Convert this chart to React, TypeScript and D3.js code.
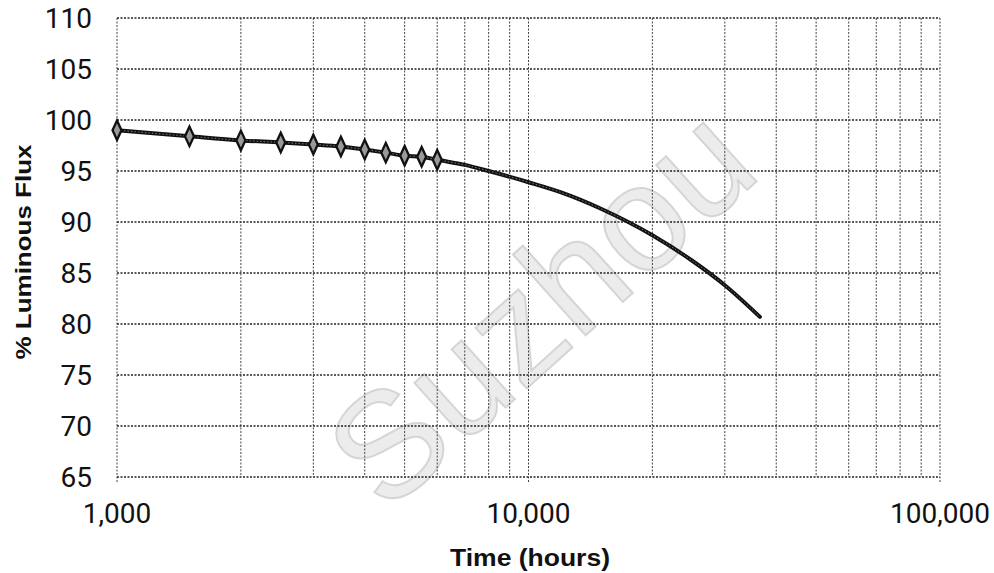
import React from "react";
import * as d3 from "d3";

const markerHours = [1000, 1500, 2000, 2500, 3000, 3500, 4000, 4500, 5000, 5500, 6000];
const markerFlux = [99.0, 98.4, 98.0, 97.8, 97.6, 97.4, 97.1, 96.8, 96.5, 96.4, 96.1];

const projHours = [6000, 7000, 8000, 10000, 12000, 15000, 20000, 25000, 30000, 36500];
const projFlux = [96.1, 95.6, 95.0, 93.9, 92.9, 91.3, 88.7, 86.2, 83.8, 80.7];

const yTicks = [65, 70, 75, 80, 85, 90, 95, 100, 105, 110];
const xTickLabels = [1000, 10000, 100000];
const xGrid = [
  1000, 2000, 3000, 4000, 5000, 6000, 7000, 8000, 9000,
  10000, 20000, 30000, 40000, 50000, 60000, 70000, 80000, 90000, 100000,
];
const watermark = "Suzhou";

const W = 994;
const H = 573;
const L = 117, R = 940, T = 18, B = 477;

export default function App() {
  const x = d3.scaleLog().domain([1000, 100000]).range([L, R]);
  const y = d3.scaleLinear().domain([65, 110]).range([B, T]);
  const fmt = d3.format(",");

  const measured = markerHours.map((h, i) => [h, markerFlux[i]] as [number, number]);
  const proj = projHours.map((h, i) => [h, projFlux[i]] as [number, number]);
  const lineGen = d3
    .line<[number, number]>()
    .x((d) => x(d[0]))
    .y((d) => y(d[1]))
    .curve(d3.curveMonotoneX);
  const allPts = [...measured, ...proj.slice(1)];
  const diamond = d3.symbol().type(d3.symbolDiamond).size(70)() as string;

  const gridStyle = { stroke: "#444", strokeWidth: 1, strokeDasharray: "2 1.5" };

  return (
    <svg width={W} height={H} style={{ position: "absolute", left: 0, top: 0, background: "#fff" }}>
      {/* watermark */}
      <g opacity={0.4}>
        <text
          x={0}
          y={0}
          transform="translate(575,345) rotate(-42)"
          textAnchor="middle"
          fontFamily="Liberation Sans, Arial, sans-serif"
          fontSize={150}
          fill="#d0d0d0"
          stroke="#999"
          strokeWidth={2}
        >
          {watermark}
        </text>
      </g>

      {/* horizontal grid */}
      {yTicks.map((t) => (
        <line key={"h" + t} x1={L} x2={R} y1={y(t)} y2={y(t)} {...gridStyle} stroke="#222" strokeWidth={1.4} />
      ))}
      {/* vertical grid */}
      {xGrid.map((t) => (
        <line key={"v" + t} x1={x(t)} x2={x(t)} y1={T} y2={B + (t === 1000 || t === 100000 || t === 10000 ? 6 : 0)} {...gridStyle} />
      ))}

      {/* series */}
      <path d={lineGen(allPts) || ""} fill="none" stroke="#111" strokeWidth={4} strokeLinejoin="round" strokeLinecap="round" />
      <path d={lineGen(allPts) || ""} fill="none" stroke="#777" strokeWidth={1} strokeDasharray="1.5 2" />
      {measured.map((d, i) => (
        <path
          key={"m" + i}
          d={diamond}
          transform={`translate(${x(d[0])},${y(d[1])}) scale(1,1.25)`}
          fill="#999"
          stroke="#111"
          strokeWidth={2.2}
        />
      ))}

      {/* y tick labels */}
      {yTicks.map((t) => (
        <text
          key={"yl" + t}
          x={92}
          y={y(t)}
          textAnchor="end"
          dominantBaseline="central"
          fontFamily="Roboto, sans-serif"
          fontSize={28}
          fill="#111"
        >
          {t}
        </text>
      ))}
      {/* x tick labels */}
      {xTickLabels.map((t) => (
        <text
          key={"xl" + t}
          x={x(t)}
          y={523}
          textAnchor="middle"
          fontFamily="Roboto, sans-serif"
          fontSize={28}
          fill="#111"
        >
          {fmt(t)}
        </text>
      ))}

      {/* axis titles */}
      <text
        x={530}
        y={566}
        textAnchor="middle"
        fontFamily="Liberation Sans, Arial, sans-serif"
        fontWeight="bold"
        fontSize={23}
        fill="#111"
        textLength={160}
        lengthAdjust="spacingAndGlyphs"
      >
        Time (hours)
      </text>
      <text
        transform="translate(31,252) rotate(-90)"
        textAnchor="middle"
        fontFamily="Liberation Sans, Arial, sans-serif"
        fontWeight="bold"
        fontSize={22}
        fill="#111"
        textLength={215}
        lengthAdjust="spacingAndGlyphs"
      >
        % Luminous Flux
      </text>
    </svg>
  );
}
